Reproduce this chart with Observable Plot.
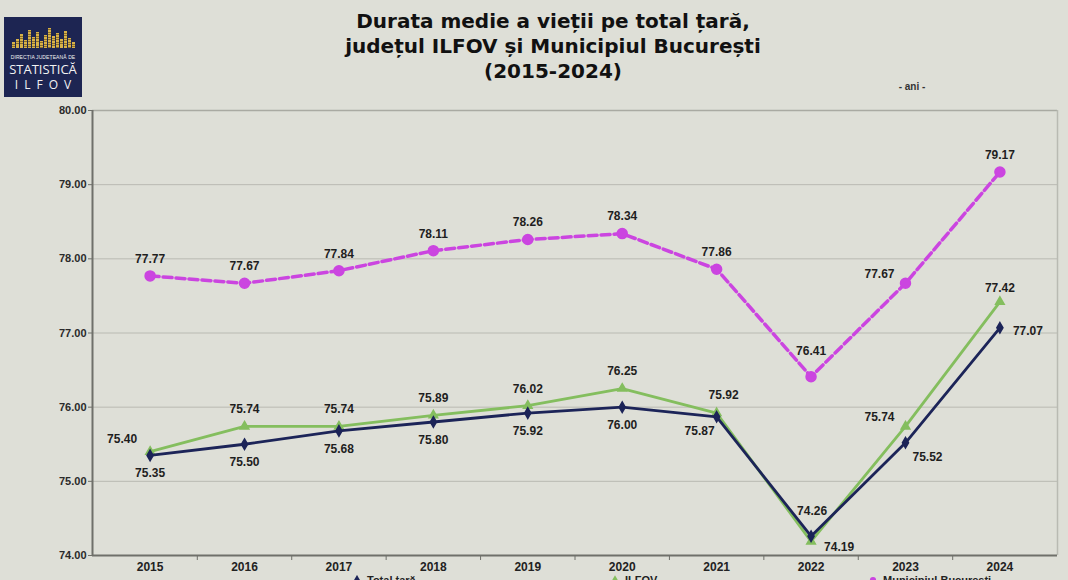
<!DOCTYPE html>
<html>
<head>
<meta charset="utf-8">
<script src="https://cdn.jsdelivr.net/npm/d3@7"></script>
<script src="https://cdn.jsdelivr.net/npm/@observablehq/plot@0.6"></script>
<style>
  html, body { margin: 0; padding: 0; }
  body { width: 1068px; height: 580px; overflow: hidden; background: #dedfd7; }
  #page { position: relative; width: 1068px; height: 580px; font-family: "Liberation Sans", Arial, sans-serif; }
  #header { position: relative; height: 95px; }
  #logo { position: absolute; left: 4px; top: 17px; width: 78px; height: 80px; background: #1d2552; color: #f2f2f2; text-align: center; overflow: hidden; }
  #sky { display: flex; align-items: flex-end; justify-content: center; gap: 1px; height: 22px; margin-top: 9px; }
  #sky span { display: block; width: 3px; background: repeating-linear-gradient(#d8b24a 0 1.5px, #8a6e2a 1.5px 2.5px); }
  #logo .l1 { font-size: 5px; line-height: 6px; letter-spacing: 0.1px; margin-top: 6px; white-space: nowrap; }
  #logo .l2 { font-family: "Open Sans", "DejaVu Sans", sans-serif; font-size: 13px; line-height: 14px; margin-top: 2px; }
  #logo .l3 { font-family: "Open Sans", "DejaVu Sans", sans-serif; font-size: 12px; letter-spacing: 6px; margin-left: 6px; line-height: 15px; margin-top: 1px; }
  #title { position: absolute; left: 553px; top: 9px; transform: translateX(-50%); text-align: center; white-space: nowrap;
           font-family: "DejaVu Sans", Verdana, sans-serif; font-weight: bold; font-size: 20px; line-height: 25px; color: #111; }
  #unit { position: absolute; left: 912px; top: 81px; transform: translateX(-50%); font-size: 10px; font-weight: bold; color: #333; }
  #chart svg { display: block; }
  #legend { position: absolute; top: 574px; left: 352px; display: flex; gap: 0; font-size: 11px; font-weight: bold; color: #222; white-space: nowrap; }
  #legend .item { display: flex; align-items: center; gap: 5px; width: 258px; }
</style>
</head>
<body>
<div id="page">
  <div id="header">
    <div id="logo">
      <div id="sky"></div>
      <div class="l1">DIRECȚIA JUDEȚEANĂ DE</div>
      <div class="l2">STATISTICĂ</div>
      <div class="l3">ILFOV</div>
    </div>
    <div id="title">Durata medie a vieții pe total țară,<br>județul ILFOV și Municipiul București<br>(2015-2024)</div>
    <div id="unit">- ani -</div>
  </div>
  <div id="chart"></div>
  <div id="legend"></div>
</div>
<script>
// ---- data ----
const years = [2015, 2016, 2017, 2018, 2019, 2020, 2021, 2022, 2023, 2024];
const totalTara = [75.35, 75.50, 75.68, 75.80, 75.92, 76.00, 75.87, 74.26, 75.52, 77.07];
const ilfov     = [75.40, 75.74, 75.74, 75.89, 76.02, 76.25, 75.92, 74.19, 75.74, 77.42];
const bucuresti = [77.77, 77.67, 77.84, 78.11, 78.26, 78.34, 77.86, 76.41, 77.67, 79.17];
const seriesNames = ["Total țară", "ILFOV", "Municipiul București"];
const yTicks = [74, 75, 76, 77, 78, 79, 80];
const logoBars = [6, 9, 14, 8, 18, 11, 16, 7, 13, 20, 12, 15, 9, 17, 10, 6];

// ---- logo skyline ----
const sky = document.getElementById("sky");
logoBars.forEach(h => { const s = document.createElement("span"); s.style.height = h + "px"; sky.appendChild(s); });

// ---- styles ----
const colors = { "Total țară": "#1c2458", "ILFOV": "#84be5e", "Municipiul București": "#cb45e0" };
const symbols = { "Total țară": "diamond", "ILFOV": "triangle", "Municipiul București": "circle" };
const dotR = { "Total țară": 3.2, "ILFOV": 3.2, "Municipiul București": 5 };

const valuesBySeries = { "Total țară": totalTara, "ILFOV": ilfov, "Municipiul București": bucuresti };
const rows = seriesNames.flatMap(s => years.map((yr, i) => ({ series: s, year: yr, value: valuesBySeries[s][i] })));

// label placement (offsets in px) by series and year
function labelOffset(d) {
  if (d.series === "Total țară") {
    if (d.year === 2021) return [-17, 14];
    if (d.year === 2022) return [1, -25];
    if (d.year === 2023) return [22, 14];
    if (d.year === 2024) return [28, 3];
    return [0, 18];
  }
  if (d.series === "ILFOV") {
    if (d.year === 2015) return [-28, -13];
    if (d.year === 2021) return [7, -18];
    if (d.year === 2022) return [28, 6];
    if (d.year === 2023) return [-26, -9];
    if (d.year === 2024) return [0, -14];
    return [0, -17];
  }
  if (d.year === 2022) return [0, -26];
  if (d.year === 2023) return [-26, -9];
  return [0, -17];
}
const labelGroups = d3.groups(rows, d => labelOffset(d).join(","));

const xPad = 0.61;
const xDomain = [years[0] - xPad, years[years.length - 1] + xPad];
const boundaries = years.slice(0, -1).map(y => y + 0.5);

const drawOrder = ["Municipiul București", "ILFOV", "Total țară"];

const chart = Plot.plot({
  width: 1068,
  height: 485,
  marginLeft: 92,
  marginRight: 11,
  marginTop: 15,
  marginBottom: 25,
  style: { background: "transparent", fontFamily: "Liberation Sans, Arial, sans-serif", overflow: "visible" },
  x: { type: "linear", domain: xDomain, axis: null, label: null },
  y: { domain: [yTicks[0], yTicks[yTicks.length - 1]], axis: null, label: null },
  marks: [
    Plot.gridY(yTicks.slice(1, -1), { stroke: "#b9bab2", strokeOpacity: 1, strokeWidth: 1 }),
    Plot.ruleY([yTicks[yTicks.length - 1]], { stroke: "#a9aaa2", strokeWidth: 1.5 }),
    Plot.ruleX([xDomain[1]], { stroke: "#b9bab2", strokeWidth: 1.5 }),
    Plot.ruleY([yTicks[0]], { stroke: "#6f706a", strokeWidth: 2 }),
    Plot.ruleX([xDomain[0]], { stroke: "#6f706a", strokeWidth: 2 }),
    Plot.axisY(yTicks, { label: null, tickSize: 4, tickPadding: 2, tickFormat: d3.format(".2f"), fontSize: 11, fontWeight: "bold", fill: "#2a2a2a", stroke: "#6f706a" }),
    Plot.axisX(boundaries, { label: null, tickSize: 5, tickFormat: () => "", stroke: "#6f706a" }),
    Plot.axisX(years, { label: null, tickSize: 0, tickPadding: 7, tickFormat: d => String(d), fontSize: 12, fontWeight: "bold", fill: "#222" }),
    ...drawOrder.flatMap(s => [
      Plot.line(rows.filter(d => d.series === s), {
        x: "year", y: "value", stroke: colors[s],
        strokeWidth: s === "Municipiul București" ? 3.5 : 2.8,
        strokeDasharray: s === "Municipiul București" ? "9,4" : null
      }),
      Plot.dot(rows.filter(d => d.series === s), {
        x: "year", y: "value", fill: colors[s], stroke: colors[s], symbol: () => symbols[s], r: dotR[s]
      })
    ]),
    ...labelGroups.map(([key, g]) => {
      const [dx, dy] = key.split(",").map(Number);
      return Plot.text(g, { x: "year", y: "value", text: d => d.value.toFixed(2), dx, dy, fontSize: 12, fontWeight: "bold", fill: "#1e1e1e" });
    })
  ]
});
document.getElementById("chart").appendChild(chart);

// ---- legend (partly cut off at the bottom, as in the reference) ----
const legend = document.getElementById("legend");
seriesNames.forEach(s => {
  const item = document.createElement("div");
  item.className = "item";
  const sym = d3.create("svg").attr("width", 10).attr("height", 10);
  sym.append("path").attr("transform", "translate(5,5)")
    .attr("d", d3.symbol(s === "Total țară" ? d3.symbolDiamond : s === "ILFOV" ? d3.symbolTriangle : d3.symbolCircle, 30)())
    .attr("fill", colors[s]);
  item.appendChild(sym.node());
  const t = document.createElement("span");
  t.textContent = s;
  item.appendChild(t);
  legend.appendChild(item);
});
</script>
</body>
</html>
